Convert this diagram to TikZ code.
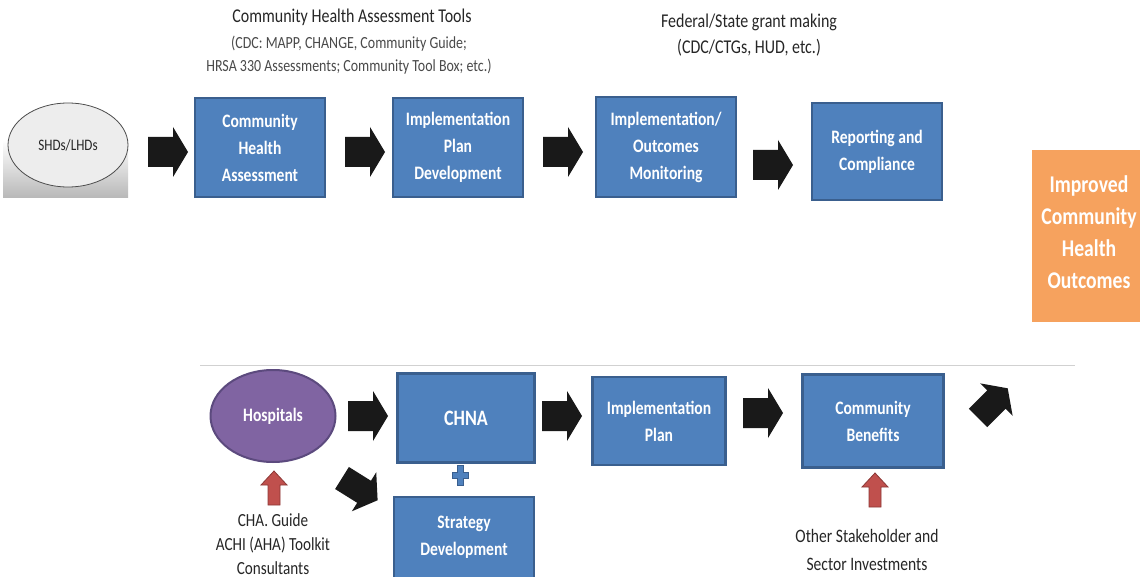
\documentclass[tikz,border=0pt]{standalone}
\usepackage{fontspec}
\setmainfont{Carlito}[FakeStretch=0.82]
\usetikzlibrary{shapes.geometric}
\definecolor{boxblue}{HTML}{4F81BD}
\definecolor{boxedge}{HTML}{3A5F8E}
\definecolor{hosp}{HTML}{8064A2}
\definecolor{hospedge}{HTML}{5C4A7E}
\definecolor{orng}{HTML}{F6A25E}
\definecolor{redar}{HTML}{C0504D}
\definecolor{rededge}{HTML}{8C3836}
\definecolor{txtdark}{HTML}{262626}
\definecolor{txtgray}{HTML}{4A4A4A}
\tikzset{
  pics/blk/.style n args={4}{code={
    \path[pic actions] (0,-#2) -- ({#1-#4},-#2) -- ({#1-#4},-#3) -- (#1,0)
      -- ({#1-#4},#3) -- ({#1-#4},#2) -- (0,#2) -- cycle;}},
  bluebox/.style={rectangle, fill=boxblue, draw=boxedge, line width=2.5pt,
    text=white, font=\bfseries\fontsize{19}{27}\selectfont, align=center, inner sep=0pt},
  headtxt/.style={text=txtdark, font=\fontsize{19.5}{26}\selectfont, align=center, inner sep=0pt},
  subtxt/.style={text=txtgray, font=\fontsize{17}{23}\selectfont, align=center, inner sep=0pt},
  notetxt/.style={text=txtdark, font=\fontsize{18.5}{24}\selectfont, align=center, inner sep=0pt},
  blackarrow/.style={fill=black!90},
  redarrow/.style={fill=redar, draw=rededge, line width=0.8pt},
}
\begin{document}
\begin{tikzpicture}[x=1pt,y=-1pt]
\useasboundingbox (0,0) rectangle (1140,577);
\fill[white] (0,0) rectangle (1140,577);

% ---------- top row ----------
\node[headtxt] (tools) at (352,17) {Community Health Assessment Tools};
\node[subtxt] (toolslist) at (349,55) {(CDC: MAPP, CHANGE, Community Guide;\\HRSA 330 Assessments; Community Tool Box; etc.)};
\node[headtxt] (fed) at (749,35) {Federal/State grant making\\(CDC/CTGs, HUD, etc.)};

\shade[top color=white, bottom color=black!28] (3,140) rectangle (128,198);
\node[ellipse, fill=black!7, draw=black!70, line width=0.8pt, minimum width=120pt,
  minimum height=84pt, inner sep=0pt, text=txtdark, font=\fontsize{16}{20}\selectfont] (shd) at (68,145) {SHDs/LHDs};

\node[bluebox, minimum width=130pt, minimum height=99pt] (cha) at (260,147.5) {Community\\Health\\Assessment};
\node[bluebox, minimum width=130pt, minimum height=99pt] (ipd) at (458,147.5) {Implementation\\Plan\\Development};
\node[bluebox, minimum width=140pt, minimum height=100pt] (iom) at (666,147) {Implementation/\\Outcomes\\Monitoring};
\node[bluebox, minimum width=130pt, minimum height=97pt] (rc) at (877,151.5) {Reporting and\\Compliance};

\pic[blackarrow] at (148,152) {blk={40}{15}{25}{15}};
\pic[blackarrow] at (345,152) {blk={40}{15}{25}{15}};
\pic[blackarrow] at (543,152) {blk={40}{15}{25}{15}};
\pic[blackarrow] at (753,165) {blk={40}{15}{25}{15}};

% ---------- outcome ----------
\node[rectangle, fill=orng, minimum width=108pt, minimum height=172pt, inner sep=0pt] (out) at (1086,236) {};
\node[text=white, font=\bfseries\fontsize{24}{32}\selectfont, align=center, inner sep=0pt] (outtxt) at (1089,232) {Improved\\Community\\Health\\Outcomes};

% ---------- separator ----------
\coordinate (sepL) at (200,365);
\coordinate (sepR) at (1075,365);
\draw[black!18, line width=0.8pt] (sepL) -- (sepR);

% ---------- bottom row ----------
\node[ellipse, fill=hosp, draw=hospedge, line width=2pt, minimum width=125pt, minimum height=92pt,
  inner sep=0pt, text=white, font=\bfseries\fontsize{19}{24}\selectfont] (hosp) at (273,416) {Hospitals};
\node[bluebox, minimum width=137pt, minimum height=89pt, font=\bfseries\fontsize{22}{27}\selectfont] (chna) at (466,418) {CHNA};
\node[bluebox, minimum width=140pt, minimum height=81pt] (strat) at (464,537.5) {Strategy\\Development};
\node[bluebox, minimum width=133pt, minimum height=88pt] (ip) at (659,421) {Implementation\\Plan};
\node[bluebox, minimum width=141pt, minimum height=93pt] (cb) at (873,421) {Community\\Benefits};

\path[fill=boxblue, draw=boxedge, line width=0.8pt]
  (457,465) -- (463,465) -- (463,472) -- (468,472) -- (468,478) -- (463,478) -- (463,485)
  -- (457,485) -- (457,478) -- (452,478) -- (452,472) -- (457,472) -- cycle;

\pic[blackarrow] at (348,416) {blk={40}{15}{25}{15}};
\pic[blackarrow] at (542,416) {blk={40}{15}{25}{15}};
\pic[blackarrow] at (743,413) {blk={40}{15}{25}{15}};
\pic[blackarrow, rotate=-32] at (342,478) {blk={42}{13}{23}{16}};
\pic[blackarrow, rotate=45] at (978,418) {blk={42}{13}{23}{16}};

\pic[redarrow, rotate=90] at (274,505) {blk={34}{6}{13}{14}};
\pic[redarrow, rotate=90] at (875,507) {blk={34}{6}{13}{14}};

\node[notetxt] (hospnote) at (273,544) {CHA. Guide\\ACHI (AHA) Toolkit\\Consultants};
\node[notetxt, font=\fontsize{19}{28}\selectfont] (cbnote) at (867,550) {Other Stakeholder and\\Sector Investments};
\end{tikzpicture}
\end{document}
